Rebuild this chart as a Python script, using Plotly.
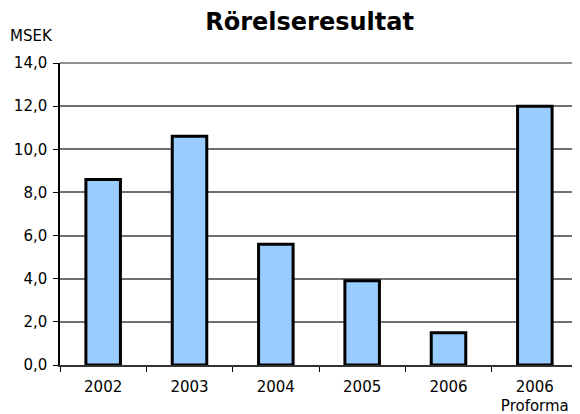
import plotly.graph_objects as go

categories = ["2002", "2003", "2004", "2005", "2006", "2006<br>Proforma"]
values = [8.6, 10.6, 5.6, 3.9, 1.5, 12.0]
y_ticks = [0, 2, 4, 6, 8, 10, 12, 14]

fig = go.Figure(go.Bar(
    x=categories, y=values,
    marker=dict(color="#99CCFF", line=dict(color="black", width=3)),
    width=0.4,
))

fig.update_layout(
    width=580, height=414,
    margin=dict(l=52, r=10, t=55, b=57),
    paper_bgcolor="white", plot_bgcolor="white",
    font=dict(family="DejaVu Sans", size=15, color="black"),
    separators=",.",
    showlegend=False,
    title=dict(text="<b>Rörelseresultat</b>", x=0.52, xanchor="center", y=0.966, yanchor="middle",
               font=dict(size=24, family="DejaVu Sans", color="black")),
    annotations=[dict(text="MSEK", xref="paper", yref="paper", x=-0.1, y=1.088,
                      xanchor="left", yanchor="middle", showarrow=False,
                      font=dict(size=15))],
    xaxis=dict(showline=True, linecolor="#333333", linewidth=1.5, ticks="outside",
               tickson="boundaries", ticklen=5, tickcolor="black", showgrid=False,
               mirror=False, automargin=False, ticklabelstandoff=7),
    yaxis=dict(range=[0, 14], tickvals=y_ticks, tickformat=".1f", showline=True,
               linecolor="black", linewidth=1.5, ticks="outside", ticklen=5, tickcolor="black",
               showgrid=True, gridcolor="#707070", gridwidth=1.5, zeroline=False,
               automargin=False, ticklabelstandoff=3),
    shapes=[dict(type="line", xref="paper", yref="paper", x0=0, x1=1, y0=1, y1=1,
                 line=dict(color="#909090", width=2)),
            dict(type="line", xref="paper", yref="paper", x0=1, x1=1, y0=0, y1=1,
                 line=dict(color="#909090", width=2))],
)

fig.write_html("out.html")
